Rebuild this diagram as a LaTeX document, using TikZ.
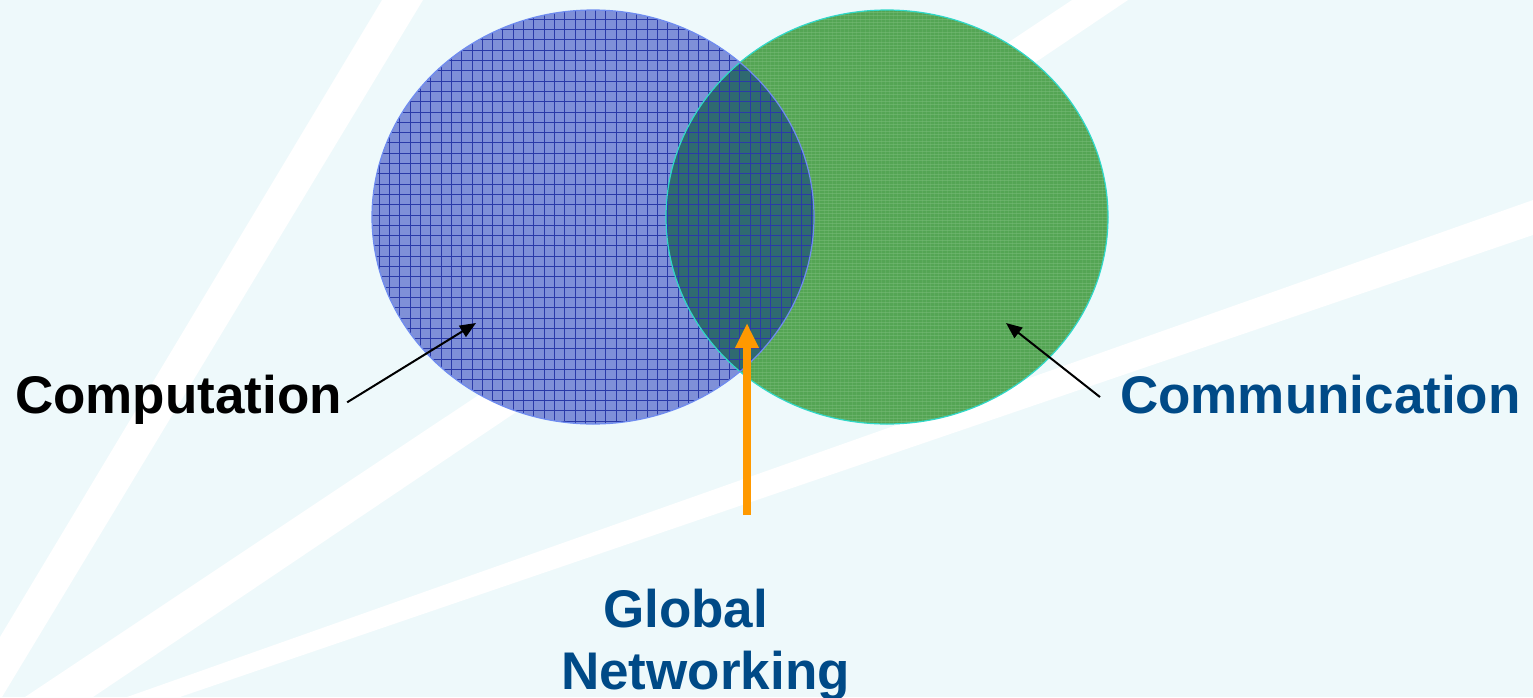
\documentclass[tikz,border=0pt]{standalone}
\usepackage{fontspec}
\setmainfont{Liberation Sans}
\usetikzlibrary{arrows.meta,calc}
\definecolor{paper}{HTML}{EEF9FB}
\definecolor{setblue}{HTML}{7F90D8}
\definecolor{bluerule}{HTML}{2A3AA8}
\definecolor{blueedge}{HTML}{6F8CF0}
\definecolor{setgreen}{HTML}{54A554}
\definecolor{greenweave}{HTML}{80C080}
\definecolor{greenedge}{HTML}{30D8C8}
\definecolor{meet}{HTML}{2F6A70}
\definecolor{navytext}{HTML}{004A87}
\definecolor{signal}{HTML}{FF9900}
\begin{document}
\begin{tikzpicture}[x=1pt,y=-1pt,
  settext/.style={font=\bfseries\fontsize{53pt}{62pt}\selectfont, inner sep=0pt},
  pointer/.style={draw=black, line width=2pt, -{Triangle[length=16pt,width=13pt]}},
  bigpointer/.style={draw=signal, line width=8pt, -{Triangle[length=25pt,width=22pt]}},
  band/.style={fill=white},
  gridline/.style={draw=bluerule, line width=0.9pt},
  weave/.style={draw=greenweave, line width=0.7pt, opacity=0.45}]
\useasboundingbox (0,0) rectangle (1533,697);
\clip (0,0) rectangle (1533,697);
% backdrop with three light bands
\fill[paper] (0,0) rectangle (1533,697);
\fill[band] (382,0) -- (423,0) -- (2,697) -- (-36,697) -- cycle;
\fill[band] (1072,0) -- (1128,0) -- (93,697) -- (25,697) -- cycle;
\fill[band] (1533,200) -- (1533,235) -- (180,697) -- (127,697) -- cycle;

% the two sets
\fill[setgreen] (887,217) ellipse [x radius=221, y radius=207];
\begin{scope}
  \clip (887,217) ellipse [x radius=221, y radius=207];
  \foreach \k in {0,...,125} \draw[weave] (660,{9+\k*3.3}) -- ++(460,0);
  \foreach \k in {0,...,110} \draw[weave, opacity=0.25] ({664+\k*4.1},0) -- ++(0,440);
\end{scope}
\fill[setblue] (593,217) ellipse [x radius=221, y radius=207];
\begin{scope}
  \clip (593,217) ellipse [x radius=221, y radius=207];
  \fill[meet] (887,217) ellipse [x radius=221, y radius=207];
  \foreach \k in {0,...,44} \draw[gridline] ({369+\k*10.3},0) -- ++(0,440);
  \foreach \k in {0,...,41} \draw[gridline] (360,{9+\k*10.3}) -- ++(470,0);
\end{scope}
\draw[greenedge, line width=1.2pt] (887,217) ellipse [x radius=221, y radius=207];
\draw[blueedge, line width=1.2pt] (593,217) ellipse [x radius=221, y radius=207];

% labels
\node[settext, anchor=base west] (comp) at (15,413) {Computation};
\node[settext, text=navytext, anchor=base west] (comm) at (1120,413) {Communication};
\node[settext, text=navytext, align=left, anchor=north west] (glob) at (561,589) {\hspace*{42pt}Global\\Networking};

% pointers
\coordinate (comptip) at (476,323);
\coordinate (commtip) at (1006,323);
\coordinate (gntail) at (747,515);
\coordinate (gntip) at (747,323);
\draw[pointer] (comp.east) ++(5,3) -- (comptip);
\draw[pointer] (comm.west) ++(-20,3) -- (commtip);
\draw[bigpointer] (gntail) -- (gntip);
\end{tikzpicture}
\end{document}
